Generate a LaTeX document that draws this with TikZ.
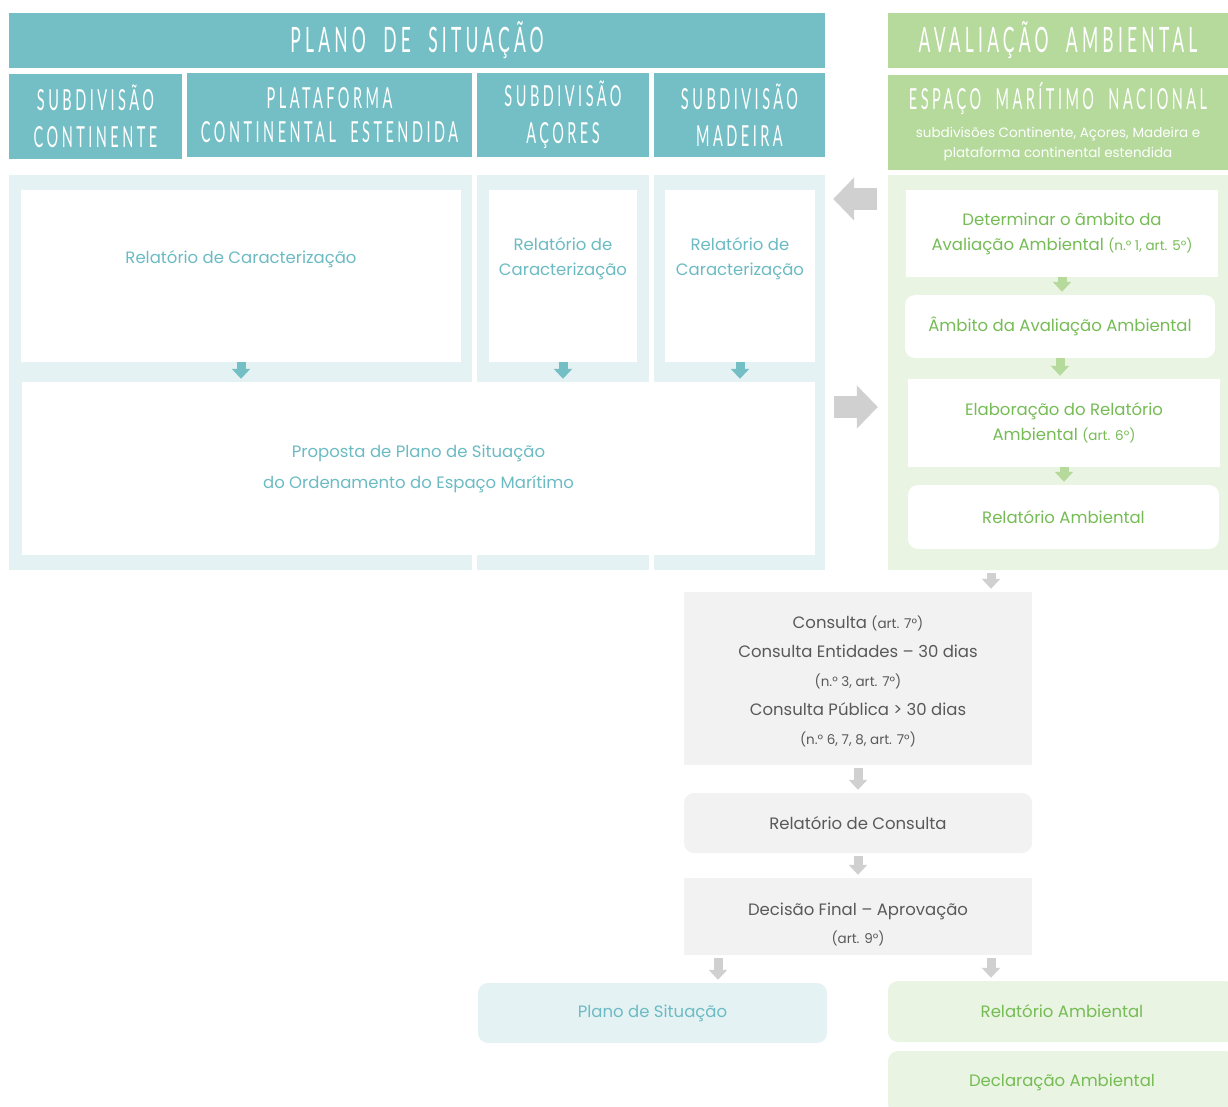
\documentclass[tikz,border=0pt]{standalone}
\usepackage{fontspec}
\newfontfamily\headfont[FakeStretch=0.5,LetterSpace=12,WordSpace=2]{Lato}
\newfontfamily\bodyfont{Poppins}
\usetikzlibrary{arrows.meta}
\definecolor{tealdark}{HTML}{73BFC5}
\definecolor{teallight}{HTML}{E4F2F4}
\definecolor{tealtext}{HTML}{6CBBC3}
\definecolor{greendark}{HTML}{B5DA9C}
\definecolor{greenlight}{HTML}{E9F4E2}
\definecolor{greentext}{HTML}{76BC55}
\definecolor{greyarrow}{HTML}{D0D0D0}
\definecolor{greyfill}{HTML}{F2F2F2}
\definecolor{greytext}{HTML}{595959}
\newcommand\artnote[1]{{\fontsize{13.5}{13.5}\selectfont #1}}
\newcommand\smallnote[1]{{\bodyfont\fontsize{13.5}{13.5}\selectfont #1}}
\begin{document}
\begin{tikzpicture}[x=1pt, y=-1pt,
    box/.style = {rectangle, inner sep=0pt, align=center, font=\bodyfont\fontsize{16.5}{25}\selectfont},
    head/.style = {box, fill=tealdark, text=white, font=\headfont\fontsize{35}{38}\selectfont},
    subhead/.style = {box, fill=tealdark, text=white, font=\headfont\fontsize{29}{37}\selectfont},
    panel/.style = {rectangle, inner sep=0pt, fill=teallight},
    whitebox/.style = {box, fill=white, text=tealtext},
    greenbox/.style = {box, fill=white, text=greentext},
    greybox/.style = {box, fill=greyfill, text=greytext},
    lbl/.style = {font=\bodyfont\fontsize{16.5}{25}\selectfont, text=tealtext, align=center},
    arr/.style = {line width=9pt, -{Triangle[width=18pt,length=10pt]}, shorten <=3pt, shorten >=3pt},
    bigarr/.style = {draw=greyarrow, line width=22pt, -{Triangle[width=42pt,length=21pt]}}
  ]
  \useasboundingbox (0,0) rectangle (1228,1106);

  % headers
  \node[head, minimum width=816pt, minimum height=55pt] (ps) at (417,40.5) {PLANO DE SITUAÇÃO};
  \node[head, fill=greendark, minimum width=340pt, minimum height=55pt] (aa) at (1058,40.5) {AVALIAÇÃO AMBIENTAL};
  \node[subhead, minimum width=173pt, minimum height=85pt] (hcont) at (95.5,116.5) {SUBDIVISÃO\\CONTINENTE};
  \node[subhead, minimum width=285pt, minimum height=84pt] (hplat) at (329.5,115) {PLATAFORMA\\[-3pt]CONTINENTAL ESTENDIDA};
  \node[subhead, minimum width=172pt, minimum height=84pt] (hacor) at (563,115) {SUBDIVISÃO\\AÇORES};
  \node[subhead, minimum width=171pt, minimum height=84pt] (hmad) at (739.5,115) {SUBDIVISÃO\\MADEIRA};
  \node[subhead, fill=greendark, minimum width=340pt, minimum height=95pt] (hemn) at (1058,122)
    {ESPAÇO MARÍTIMO NACIONAL\\[-9pt]\smallnote{subdivisões Continente, Açores, Madeira e}\\[-17pt]\smallnote{plataforma continental estendida}};

  % panels
  \node[panel, minimum width=463pt, minimum height=395pt] (pcont) at (240.5,372.5) {};
  \node[panel, minimum width=172pt, minimum height=395pt] (pacor) at (563,372.5) {};
  \node[panel, minimum width=171pt, minimum height=395pt] (pmad) at (739.5,372.5) {};
  \node[panel, fill=greenlight, minimum width=340pt, minimum height=395pt] (pgreen) at (1058,372.5) {};

  % plano de situacao
  \node[whitebox, minimum width=440pt, minimum height=172pt,
    label={[lbl, yshift=17pt]center:Relatório de Caracterização}] (rccont) at (241,276) {};
  \node[whitebox, minimum width=148pt, minimum height=172pt,
    label={[lbl, yshift=17pt]center:Relatório de\\Caracterização}] (rcacor) at (563,276) {};
  \node[whitebox, minimum width=150pt, minimum height=172pt,
    label={[lbl, yshift=17pt]center:Relatório de\\Caracterização}] (rcmad) at (740,276) {};
  \node[whitebox, minimum width=793pt, minimum height=173pt, font=\bodyfont\fontsize{16.5}{31}\selectfont] (prop) at (418.5,468.5)
    {Proposta de Plano de Situação\\do Ordenamento do Espaço Marítimo};

  % avaliacao ambiental
  \node[greenbox, minimum width=312pt, minimum height=87pt] (det) at (1062,233.5)
    {Determinar o âmbito da\\Avaliação Ambiental \artnote{(n.° 1, art. 5°)}};
  \node[greenbox, rounded corners=10pt, minimum width=310pt, minimum height=63pt] (amb) at (1060,326.5) {Âmbito da Avaliação Ambiental};
  \node[greenbox, minimum width=312pt, minimum height=88pt] (elab) at (1064,423)
    {Elaboração do Relatório\\Ambiental \artnote{(art. 6°)}};
  \node[greenbox, rounded corners=10pt, minimum width=311pt, minimum height=64pt] (rafin) at (1063.5,517) {Relatório Ambiental};

  % consulta e decisao
  \node[greybox, minimum width=348pt, minimum height=173pt, font=\bodyfont\fontsize{16.5}{29}\selectfont] (cons) at (858,678.5)
    {\rule{0pt}{18pt}Consulta \artnote{(art. 7°)}\\Consulta Entidades – 30 dias\\\artnote{(n.° 3, art. 7°)}\\Consulta Pública > 30 dias\\\artnote{(n.° 6, 7, 8, art. 7°)}};
  \node[greybox, rounded corners=10pt, minimum width=348pt, minimum height=60pt] (relc) at (858,823) {Relatório de Consulta};
  \node[greybox, minimum width=348pt, minimum height=77pt, font=\bodyfont\fontsize{16.5}{28}\selectfont] (dec) at (858,916.5)
    {\rule{0pt}{28pt}Decisão Final – Aprovação\\\artnote{(art. 9°)}};

  % resultados
  \node[box, fill=teallight, text=tealtext, rounded corners=10pt, minimum width=349pt, minimum height=60pt] (plano) at (652.5,1013) {Plano de Situação};
  \node[box, fill=greenlight, text=greentext, rounded corners=10pt, minimum width=348pt, minimum height=61pt] (rafinal) at (1062,1011.5) {Relatório Ambiental};
  \node[box, fill=greenlight, text=greentext, rounded corners=10pt, minimum width=348pt, minimum height=63pt] (decla) at (1062,1082.5) {Declaração Ambiental};

  % setas
  \draw[arr, tealdark, shorten <=0pt] (rccont.south) -- (rccont.south |- prop.north);
  \draw[arr, tealdark, shorten <=0pt] (rcacor.south) -- (rcacor.south |- prop.north);
  \draw[arr, tealdark, shorten <=0pt] (rcmad.south) -- (rcmad.south |- prop.north);
  \draw[arr, greendark, shorten <=0pt] (det.south) -- (det.south |- amb.north);
  \draw[arr, greendark, shorten <=0pt] (amb.south) -- (amb.south |- elab.north);
  \draw[arr, greendark, shorten <=0pt] (elab.south) -- (elab.south |- rafin.north);

  \coordinate (gout) at ([xshift=-67pt]pgreen.south);
  \coordinate (splitl) at ([xshift=-140pt]dec.south);
  \coordinate (splitr) at ([xshift=133pt]dec.south);
  \draw[arr, greyarrow] (gout) -- (gout |- cons.north);
  \draw[arr, greyarrow] (cons.south) -- (relc.north);
  \draw[arr, greyarrow] (relc.south) -- (dec.north);
  \draw[arr, greyarrow] (splitl) -- (splitl |- plano.north);
  \draw[arr, greyarrow] (splitr) -- (splitr |- rafinal.north);

  \draw[bigarr, shorten <=11pt, shorten >=8pt] ([yshift=173.5pt]pgreen.west) -- ([yshift=173.5pt]pmad.east);
  \draw[bigarr, shorten <=9pt, shorten >=10pt] ([yshift=-34.5pt]pmad.east) -- ([yshift=-34.5pt]pgreen.west);
\end{tikzpicture}
\end{document}
